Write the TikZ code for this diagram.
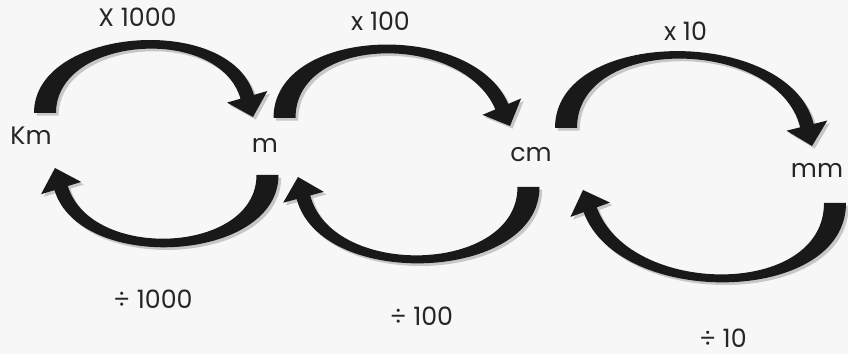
\documentclass[tikz,border=0pt]{standalone}
\usepackage{fontspec}
\setmainfont{Poppins}
\usetikzlibrary{calc}

% tapered bent arrow: tail, tip, tail direction, head direction
\newcommand{\bendarrow}[4]{%
    \pgfmathsetmacro{\tipback}{#4+180}%
    \pgfmathsetmacro{\tipout}{#4+90}%
    \pgfmathsetmacro{\tipin}{#4-90}%
    \pgfmathsetmacro{\tailout}{#3+90}%
    \pgfmathsetmacro{\tailin}{#3-90}%
    \fill[arrowfill] ($(#1)+(\tailout:11)$) to[out=#3, in=\tipback] ($(#2)+(\tipback:21)+(\tipout:7)$)
        -- ($(#2)+(\tipback:21)+(\tipout:21)$) -- (#2) -- ($(#2)+(\tipback:21)+(\tipin:21)$)
        -- ($(#2)+(\tipback:21)+(\tipin:7)$) to[out=\tipback, in=#3, looseness=1.07] ($(#1)+(\tailin:11)$) -- cycle;}

\begin{document}
\begin{tikzpicture}[x=0.02cm, y=0.02cm]
    \tikzstyle{unit} = [inner sep=0pt, font=\Large, text=black!85]
    \tikzstyle{factor} = [inner sep=0pt, font=\Large, text=black!85]
    \tikzstyle{arrowfill} = [fill=black!90, preaction={fill=black!22, transform canvas={xshift=1.5pt, yshift=-1.5pt}}]

    \fill[black!3] (0,0) rectangle (848,354);

    \node[unit] (km) at (31, 218.5) {Km};
    \node[unit] (m) at (265, 209) {m};
    \node[unit] (cm) at (531, 199.5) {cm};
    \node[unit] (mm) at (817, 183.5) {mm};

    \node[factor] (x1000) at (137.5, 336.5) {X 1000};
    \node[factor] (x100) at (380.5, 333) {x 100};
    \node[factor] (x10) at (685.5, 322.5) {x 10};
    \node[factor] (d1000) at (153, 55) {÷ 1000};
    \node[factor] (d100) at (421.5, 38) {÷ 100};
    \node[factor] (d10) at (723, 15.5) {÷ 10};

    % multiply, over the top
    \coordinate (t1000) at (45, 241);
    \coordinate (h1000) at (253, 237);
    \coordinate (t100) at (284.5, 236);
    \coordinate (h100) at (510, 228);
    \coordinate (t10) at (566, 226);
    \coordinate (h10) at (812, 208);
    \bendarrow{t1000}{h1000}{90}{-74}
    \bendarrow{t100}{h100}{90}{-67}
    \bendarrow{t10}{h10}{90}{-76}

    % divide, underneath
    \coordinate (dt1000) at (267.5, 179);
    \coordinate (dh1000) at (55, 186);
    \coordinate (dt100) at (528.5, 167);
    \coordinate (dh100) at (298, 177);
    \coordinate (dt10) at (835, 151);
    \coordinate (dh10) at (583, 164);
    \bendarrow{dt1000}{dh1000}{270}{107}
    \bendarrow{dt100}{dh100}{270}{105}
    \bendarrow{dt10}{dh10}{270}{110}
\end{tikzpicture}
\end{document}
